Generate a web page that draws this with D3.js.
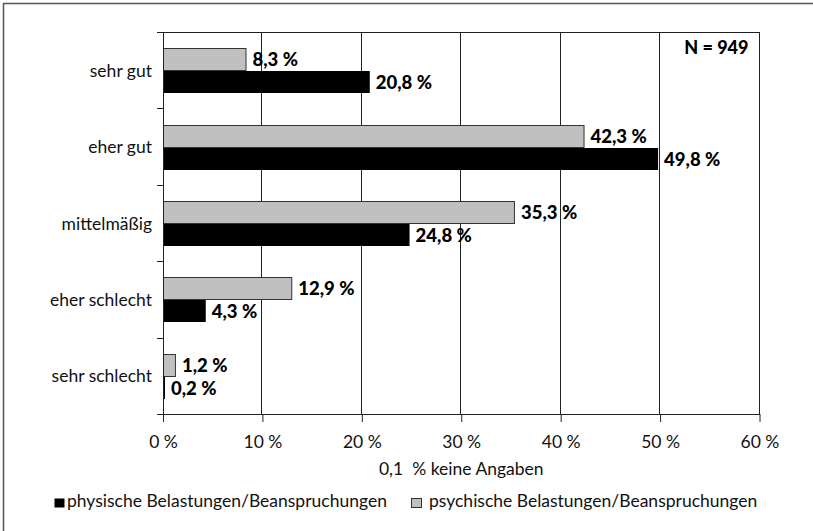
<!DOCTYPE html>
<html>
<head>
<meta charset="utf-8">
<script src="https://cdn.jsdelivr.net/npm/d3@7"></script>
<style>
  body { margin: 0; background: #fff; }
  svg { display: block; font-family: Lato, "Open Sans", sans-serif; }
</style>
</head>
<body>
<div id="chart"></div>
<script>
"use strict";

const categories = ["sehr gut", "eher gut", "mittelmäßig", "eher schlecht", "sehr schlecht"];
const psychischValues = [8.3, 42.3, 35.3, 12.9, 1.2];
const physischValues = [20.8, 49.8, 24.8, 4.3, 0.2];
const xTicks = [0, 10, 20, 30, 40, 50, 60];
const seriesNames = ["physische Belastungen/Beanspruchungen", "psychische Belastungen/Beanspruchungen"];
const noteText = "0,1  % keine Angaben";
const nText = "N = 949";

const width = 813;
const height = 531;
const plotLeft = 163, plotRight = 759.5, plotTop = 32, plotBottom = 414;

const fmt = v => v.toFixed(1).replace(".", ",") + " %";

const svg = d3.select("#chart")
    .append("svg")
    .attr("width", width)
    .attr("height", height);

// outer frame (only left/top edges are inside the picture)
svg.append("rect")
    .attr("x", 3.5)
    .attr("y", 3.5)
    .attr("width", width + 20)
    .attr("height", height + 20)
    .attr("fill", "none")
    .attr("stroke", "#555")
    .attr("stroke-width", 1.5);

const x = d3.scaleLinear()
    .domain([0, 60])
    .range([plotLeft, plotRight]);

const y = d3.scaleBand()
    .domain(categories)
    .range([plotTop, plotBottom]);

const barH = 22;
const mid = d => y(d) + y.bandwidth() / 2;

// gridlines
svg.append("g")
    .selectAll("line")
    .data(xTicks.slice(1))
    .join("line")
    .attr("x1", d => Math.round(x(d)) - 0.5)
    .attr("x2", d => Math.round(x(d)) - 0.5)
    .attr("y1", plotTop)
    .attr("y2", plotBottom)
    .attr("stroke", "#222")
    .attr("stroke-width", 1);

// top border of plot
svg.append("line")
    .attr("x1", plotLeft)
    .attr("x2", Math.round(x(60)))
    .attr("y1", plotTop + 0.5)
    .attr("y2", plotTop + 0.5)
    .attr("stroke", "#222");

// psychische (gray, upper bar)
svg.selectAll(".bar-psy")
    .data(categories)
    .join("rect")
    .attr("class", "bar-psy")
    .attr("x", x(0) + 0.5)
    .attr("y", d => Math.round(mid(d) - barH) + 0.5)
    .attr("width", (d, i) => x(psychischValues[i]) - x(0))
    .attr("height", barH)
    .attr("fill", "#c0c0c0")
    .attr("stroke", "#333")
    .attr("stroke-width", 1);

// physische (black, lower bar)
svg.selectAll(".bar-phy")
    .data(categories)
    .join("rect")
    .attr("class", "bar-phy")
    .attr("x", x(0))
    .attr("y", d => Math.round(mid(d)) + 1)
    .attr("width", (d, i) => Math.max(2, x(physischValues[i]) - x(0)))
    .attr("height", barH)
    .attr("fill", "#000");

// x axis
const xAxis = svg.append("g")
    .attr("transform", `translate(0, ${plotBottom})`)
    .call(d3.axisBottom(x).tickValues(xTicks).tickSize(8).tickSizeOuter(0).tickFormat(d => d + " %"));
xAxis.select(".domain").attr("stroke", "#222");
xAxis.selectAll(".tick line").attr("stroke", "#222");
xAxis.selectAll("text")
    .attr("font-size", 17.5)
    .attr("fill", "#111")
    .attr("y", 34)
    .attr("dy", null)
    .attr("font-family", "Lato, sans-serif");

// y axis
const yAxisG = svg.append("g");
yAxisG.append("line")
    .attr("x1", plotLeft + 0.5)
    .attr("x2", plotLeft + 0.5)
    .attr("y1", plotTop)
    .attr("y2", plotBottom + 8)
    .attr("stroke", "#222");
yAxisG.selectAll(".ytick")
    .data(d3.range(categories.length + 1))
    .join("line")
    .attr("class", "ytick")
    .attr("x1", plotLeft - 6)
    .attr("x2", plotLeft)
    .attr("y1", i => Math.round(plotTop + i * y.step()) + 0.5)
    .attr("y2", i => Math.round(plotTop + i * y.step()) + 0.5)
    .attr("stroke", "#222");
yAxisG.selectAll(".ylabel")
    .data(categories)
    .join("text")
    .attr("class", "ylabel")
    .attr("x", plotLeft - 11)
    .attr("y", d => mid(d) + 6.5)
    .attr("text-anchor", "end")
    .attr("font-size", 17.5)
    .attr("fill", "#111")
    .text(d => d);

// value labels
svg.selectAll(".lab-psy")
    .data(categories)
    .join("text")
    .attr("class", "lab-psy")
    .attr("x", (d, i) => x(psychischValues[i]) + 7)
    .attr("y", d => mid(d) - barH / 2 + 7)
    .attr("font-size", 18.5)
    .attr("font-weight", 900)
    .attr("fill", "#000")
    .text((d, i) => fmt(psychischValues[i]));

svg.selectAll(".lab-phy")
    .data(categories)
    .join("text")
    .attr("class", "lab-phy")
    .attr("x", (d, i) => Math.max(x(0) + 2, x(physischValues[i])) + 6)
    .attr("y", d => mid(d) + barH / 2 + 8)
    .attr("font-size", 18.5)
    .attr("font-weight", 900)
    .attr("fill", "#000")
    .text((d, i) => fmt(physischValues[i]));

// N label
svg.append("text")
    .attr("x", x(60) - 11)
    .attr("y", 54)
    .attr("text-anchor", "end")
    .attr("font-size", 18)
    .attr("font-weight", 900)
    .text(nText);

// note below axis
svg.append("text")
    .attr("x", x(30))
    .attr("y", 475)
    .attr("text-anchor", "middle")
    .attr("font-size", 17.5)
    .attr("fill", "#111")
    .style("white-space", "pre")
    .text(noteText);

// legend
const legendItems = [
    { name: seriesNames[0], fill: "#000", stroke: "none", x: 54, tx: 67 },
    { name: seriesNames[1], fill: "#c0c0c0", stroke: "#333", x: 411, tx: 429 }
];
const legend = svg.append("g");
legend.selectAll("rect")
    .data(legendItems)
    .join("rect")
    .attr("x", d => d.x + 0.5)
    .attr("y", 498.5)
    .attr("width", 10)
    .attr("height", 9)
    .attr("fill", d => d.fill)
    .attr("stroke", d => d.stroke);
legend.selectAll("text")
    .data(legendItems)
    .join("text")
    .attr("x", d => d.tx)
    .attr("y", 507)
    .attr("font-size", 17.5)
    .attr("fill", "#111")
    .text(d => d.name);
</script>
</body>
</html>
